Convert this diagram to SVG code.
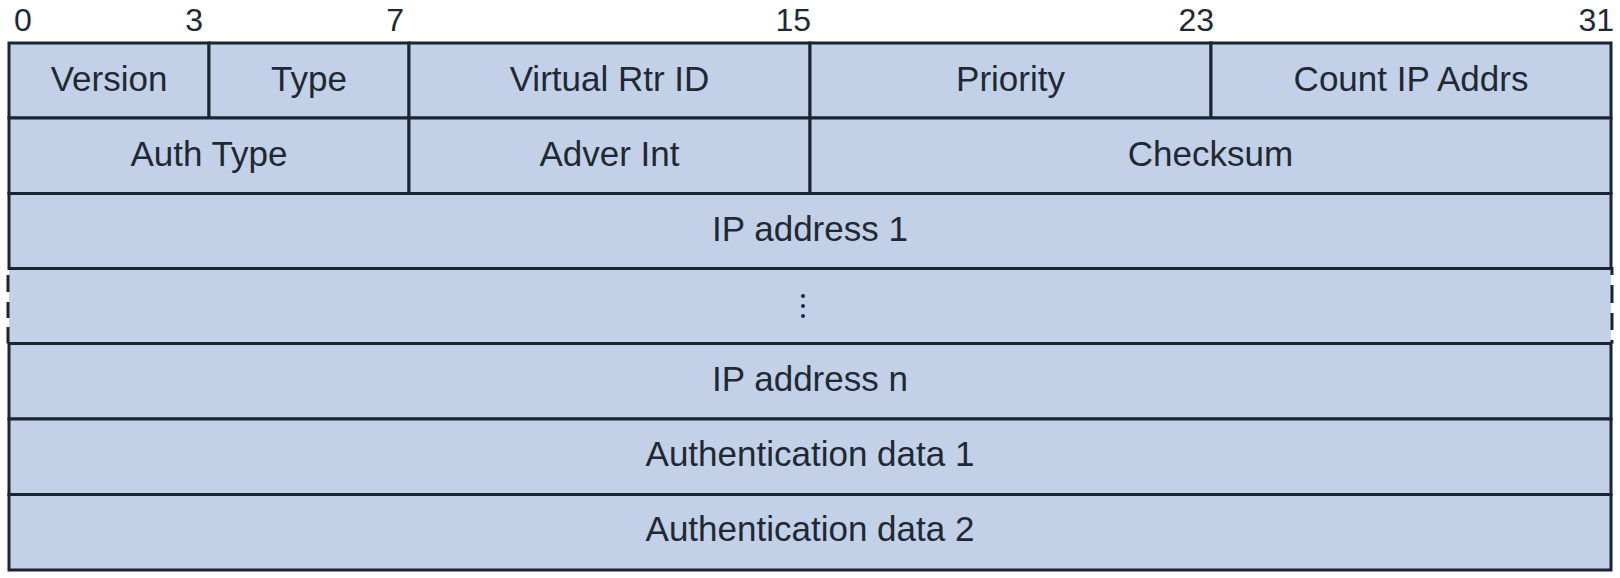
<svg xmlns="http://www.w3.org/2000/svg" width="1620" height="578" viewBox="0 0 1620 578">
<style>
.bg{fill:#ffffff}
.f{fill:#c3d1e8;stroke:#1b2530;stroke-width:3}
.fill{fill:#c3d1e8;stroke:none}
.ln{stroke:#1b2530;stroke-width:3;fill:none}
.t{font-family:"Liberation Sans",Arial,sans-serif;font-size:35px;fill:#1f2933;text-anchor:middle}
.n{font-family:"Liberation Sans",Arial,sans-serif;font-size:32px;fill:#1f2933}
</style>
<rect class="bg" x="0" y="0" width="1620" height="578"/>
<g id="bit-numbers">
<text class="n" x="14" y="31">0</text>
<text class="n" x="203" y="31" text-anchor="end">3</text>
<text class="n" x="404" y="31" text-anchor="end">7</text>
<text class="n" x="811" y="31" text-anchor="end">15</text>
<text class="n" x="1214" y="31" text-anchor="end">23</text>
<text class="n" x="1614" y="31" text-anchor="end">31</text>
</g>
<g id="version"><rect class="f" x="9" y="43" width="200" height="75"/><text class="t" x="109" y="91">Version</text></g>
<g id="type"><rect class="f" x="209" y="43" width="200" height="75"/><text class="t" x="309" y="91">Type</text></g>
<g id="virtual-rtr-id"><rect class="f" x="409" y="43" width="401" height="75"/><text class="t" x="609.5" y="91">Virtual Rtr ID</text></g>
<g id="priority"><rect class="f" x="810" y="43" width="401" height="75"/><text class="t" x="1010.5" y="91">Priority</text></g>
<g id="count-ip-addrs"><rect class="f" x="1211" y="43" width="400" height="75"/><text class="t" x="1411" y="91">Count IP Addrs</text></g>
<g id="auth-type"><rect class="f" x="9" y="118" width="400" height="75.5"/><text class="t" x="209" y="166">Auth Type</text></g>
<g id="adver-int"><rect class="f" x="409" y="118" width="401" height="75.5"/><text class="t" x="609.5" y="166">Adver Int</text></g>
<g id="checksum"><rect class="f" x="810" y="118" width="801" height="75.5"/><text class="t" x="1210.5" y="166">Checksum</text></g>
<g id="ip-address-1"><rect class="f" x="9" y="193.5" width="1602" height="75"/><text class="t" x="810" y="241">IP address 1</text></g>
<g id="ellipsis">
<rect class="fill" x="9" y="268.5" width="1602" height="75"/>
<line class="ln" x1="9" y1="268.5" x2="1611" y2="268.5"/>
<line class="ln" x1="9" y1="343.5" x2="1611" y2="343.5"/>
<line class="ln" x1="8" y1="275" x2="8" y2="292"/>
<line class="ln" x1="8" y1="302" x2="8" y2="318"/>
<line class="ln" x1="8" y1="327" x2="8" y2="343.5"/>
<line class="ln" x1="1612" y1="267" x2="1612" y2="275"/>
<line class="ln" x1="1612" y1="285" x2="1612" y2="303"/>
<line class="ln" x1="1612" y1="313" x2="1612" y2="330"/>
<line class="ln" x1="1612" y1="340" x2="1612" y2="343.5"/>
<circle cx="803" cy="296" r="2" fill="#1f2933"/>
<circle cx="803" cy="306" r="2" fill="#1f2933"/>
<circle cx="803" cy="316" r="2" fill="#1f2933"/>
</g>
<g id="ip-address-n"><rect class="f" x="9" y="343.5" width="1602" height="75.5"/><text class="t" x="810" y="391">IP address n</text></g>
<g id="authentication-data-1"><rect class="f" x="9" y="419" width="1602" height="75.5"/><text class="t" x="810" y="466">Authentication data 1</text></g>
<g id="authentication-data-2"><rect class="f" x="9" y="494.5" width="1602" height="75.5"/><text class="t" x="810" y="541">Authentication data 2</text></g>
<g id="connectors"></g>
</svg>
